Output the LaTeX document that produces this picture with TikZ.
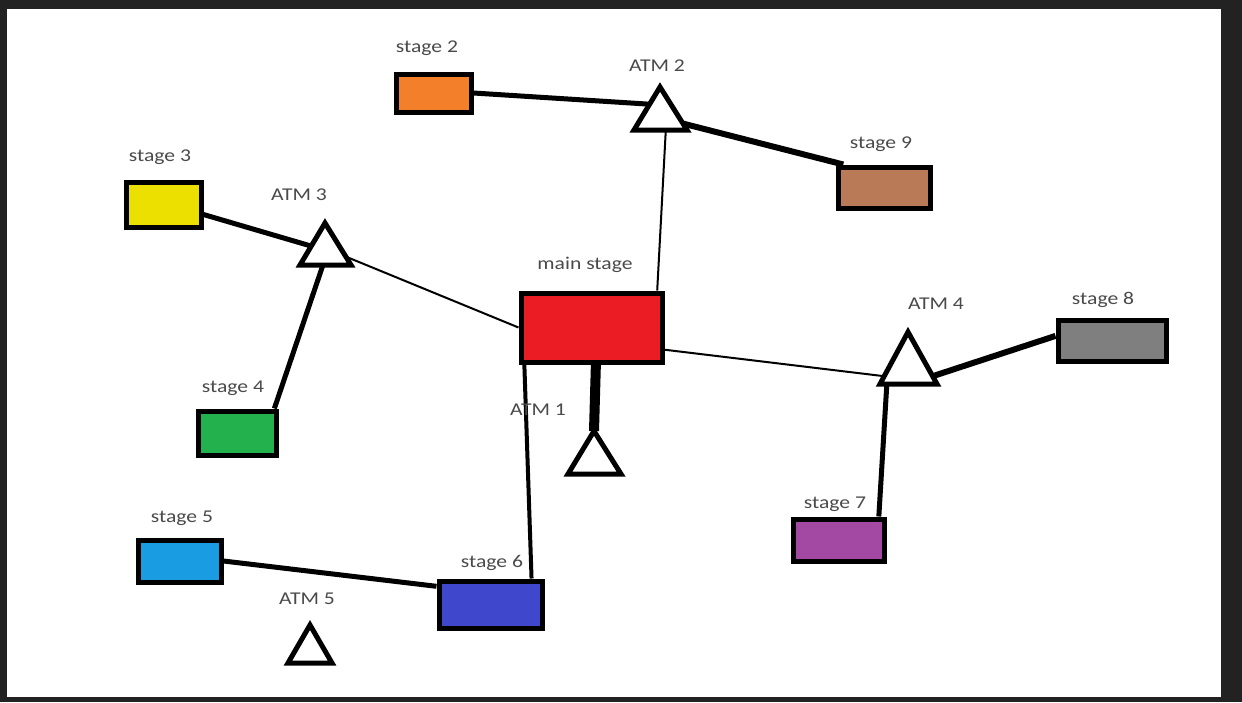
\documentclass[tikz,border=0pt]{standalone}
\usepackage{fontspec}
\usepackage{graphicx}
\setmainfont{Carlito}
\usetikzlibrary{calc}
\pgfdeclarelayer{back}
\pgfdeclarelayer{links}
\pgfsetlayers{back,links,main}
\definecolor{txtgray}{HTML}{4A4A4A}
\definecolor{frame}{HTML}{222222}
\definecolor{corange}{HTML}{F47F2A}
\definecolor{cbrown}{HTML}{B97A57}
\definecolor{cyellow}{HTML}{EBE000}
\definecolor{cred}{HTML}{EC1C24}
\definecolor{cgray}{HTML}{7F7F7F}
\definecolor{cgreen}{HTML}{22B14C}
\definecolor{cpurple}{HTML}{A349A4}
\definecolor{cblue}{HTML}{1A9CE3}
\definecolor{cdblue}{HTML}{3F48CC}
\tikzset{
  stagebox/.style={draw=black, line width=5pt, inner sep=0pt},
  lbl/.style={text=txtgray, font=\fontsize{18}{21}\selectfont, inner sep=0pt},
  thickln/.style={line width=5pt, black},
  thinln/.style={line width=2pt, black},
  atmtri/.style={draw=black, fill=white, line width=5pt, line join=miter},
}
\newcommand\wlab[1]{\scalebox{1.2}[1]{#1}}
\begin{document}
\begin{tikzpicture}[x=1pt,y=-1pt]
\useasboundingbox (0,0) rectangle (1242,702);
\begin{pgfonlayer}{back}
\fill[frame] (0,0) rectangle (1242,702);
\fill[white] (7,9) rectangle (1221,697);
\end{pgfonlayer}

% triangle corners
\coordinate (t2a) at (660,87); \coordinate (t2l) at (634,130); \coordinate (t2r) at (687,130);
\coordinate (t3a) at (325,223); \coordinate (t3l) at (300,265); \coordinate (t3r) at (351,265);
\coordinate (t4a) at (908,332); \coordinate (t4l) at (880,384); \coordinate (t4r) at (937,384);
\coordinate (t1a) at (594,431); \coordinate (t1l) at (568,474); \coordinate (t1r) at (621,474);
\coordinate (t5a) at (310,625); \coordinate (t5l) at (288,663); \coordinate (t5r) at (332,663);

% stage boxes
\node[stagebox, fill=corange, minimum width=75pt, minimum height=38pt] (s2) at (433.5,93) {};
\node[stagebox, fill=cbrown, minimum width=92pt, minimum height=41pt] (s9) at (884,187.5) {};
\node[stagebox, fill=cyellow, minimum width=75pt, minimum height=45pt] (s3) at (163.5,204.5) {};
\node[stagebox, fill=cred, minimum width=141pt, minimum height=69pt] (main) at (591.5,327.5) {};
\node[stagebox, fill=cgray, minimum width=108pt, minimum height=41pt] (s8) at (1112,340.5) {};
\node[stagebox, fill=cgreen, minimum width=78pt, minimum height=44pt] (s4) at (237,433) {};
\node[stagebox, fill=cpurple, minimum width=91pt, minimum height=42pt] (s7) at (838.5,540) {};
\node[stagebox, fill=cblue, minimum width=83pt, minimum height=42pt] (s5) at (179.5,561) {};
\node[stagebox, fill=cdblue, minimum width=103pt, minimum height=47pt] (s6) at (490.5,604.5) {};

% connectors (behind boxes and triangles)
\begin{pgfonlayer}{links}
\draw[thickln] (s2.east) -- ($(t2a)!0.4!(t2l)$);
\draw[line width=6pt] ($(t2a)!0.85!(t2r)$) -- ($(s9.north west)!0.08!(s9.north east)$);
\draw[thinln] ($(t2l)!0.6!(t2r)$) -- ($(main.north west)!0.95!(main.north east)$);
\draw[thickln] ($(s3.north east)!0.7!(s3.south east)$) -- ($(t3a)!0.55!(t3l)$);
\draw[thinln] ($(t3a)!0.8!(t3r)$) -- ($(main.north west)!0.5!(main.south west)$);
\draw[thickln] ($(t3l)!0.45!(t3r)$) -- ($(s4.north west)!0.95!(s4.north east)$);
\draw[thinln] ($(main.north east)!0.8!(main.south east)$) -- ($(t4a)!0.85!(t4l)$);
\draw[line width=6pt] ($(t4a)!0.85!(t4r)$) -- ($(s8.north west)!0.4!(s8.south west)$);
\draw[thickln] ($(t4l)!0.12!(t4r)$) -- ($(s7.north west)!0.92!(s7.north east)$);
\draw[line width=4pt] ($(main.south west)!0.04!(main.south east)$) -- ($(s6.north west)!0.88!(s6.north east)$);
\draw[line width=10pt] ($(main.south west)!0.53!(main.south east)$) -- (t1a);
\draw[thickln] (s5.east) -- ($(s6.north west)!0.15!(s6.south west)$);
\end{pgfonlayer}

% ATM triangles
\draw[atmtri] (t2a) -- (t2l) -- (t2r) -- cycle;
\draw[atmtri] (t3a) -- (t3l) -- (t3r) -- cycle;
\draw[atmtri] (t4a) -- (t4l) -- (t4r) -- cycle;
\draw[atmtri] (t1a) -- (t1l) -- (t1r) -- cycle;
\draw[atmtri] (t5a) -- (t5l) -- (t5r) -- cycle;

% labels
\node[lbl] (l2) at (427,48) {\wlab{stage 2}};
\node[lbl] (la2) at (657,66) {\wlab{ATM 2}};
\node[lbl] (l9) at (881,144) {\wlab{stage 9}};
\node[lbl] (l3) at (160,157) {\wlab{stage 3}};
\node[lbl] (la3) at (299,195) {\wlab{ATM 3}};
\node[lbl] (lm) at (585,265) {\wlab{main stage}};
\node[lbl] (la4) at (936,304) {\wlab{ATM 4}};
\node[lbl] (l8) at (1103,300) {\wlab{stage 8}};
\node[lbl] (l4) at (233,388) {\wlab{stage 4}};
\node[lbl] (la1) at (538,410) {\wlab{ATM 1}};
\node[lbl] (l7) at (835,504) {\wlab{stage 7}};
\node[lbl] (l5) at (182,518) {\wlab{stage 5}};
\node[lbl] (l6) at (492,563) {\wlab{stage 6}};
\node[lbl] (la5) at (307,599) {\wlab{ATM 5}};
\end{tikzpicture}
\end{document}
